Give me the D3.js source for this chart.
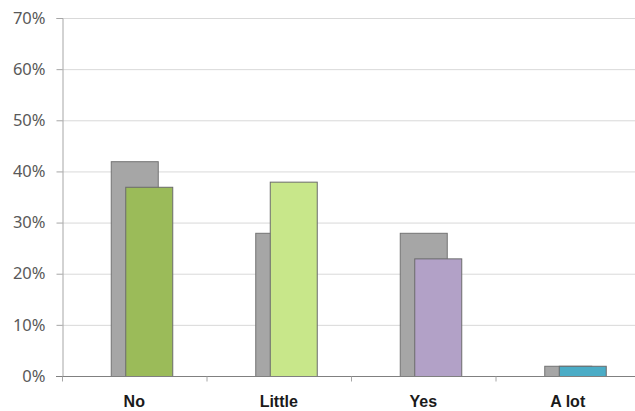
<!DOCTYPE html>
<html><head><meta charset="utf-8">
<script src="https://cdn.jsdelivr.net/npm/d3@7"></script>
<style>body{margin:0;background:#fff}svg{display:block}</style>
</head><body>
<svg id="c" width="635" height="411"></svg>
<script>
const categories = ["No", "Little", "Yes", "A lot"];
const backValues = [42, 28, 28, 2];
const frontValues = [37, 38, 23, 2];
const frontColors = ["#9bbb59", "#c8e78a", "#b2a1c7", "#4bacc6"];
const yTicks = [0, 10, 20, 30, 40, 50, 60, 70];

const svg = d3.select("#c");
const m = {left: 62, right: 640, top: 18, bottom: 376};
const x = d3.scaleBand().domain(categories).range([m.left, m.right]).paddingInner(0).paddingOuter(0);
const y = d3.scaleLinear().domain([0, 70]).range([m.bottom, m.top]);
const bw = 47, off = 14.5;

// gridlines
svg.append("g").selectAll("line").data(yTicks.filter(d => d > 0)).join("line")
  .attr("x1", m.left).attr("x2", 635)
  .attr("y1", d => y(d) + 0.5).attr("y2", d => y(d) + 0.5)
  .attr("stroke", "#d9d9d9").attr("stroke-width", 1);

// y axis
const ya = svg.append("g").attr("transform", `translate(${m.left + 0.5},0)`)
  .call(d3.axisLeft(y).tickValues(yTicks).tickFormat(d => d + "%").tickSize(6).tickPadding(11));
ya.select(".domain").attr("stroke", "#a6a6a6");
ya.selectAll(".tick line").attr("stroke", "#a6a6a6");
ya.selectAll("text").attr("fill", "#595959").style("font-family", "Noto Sans, sans-serif").style("font-size", "16.5px");

// bars
const g = svg.append("g");
g.selectAll("rect.back").data(categories).join("rect").attr("class", "back")
  .attr("x", (d) => x(d) + x.bandwidth() / 2 - bw / 2 + 0.5)
  .attr("y", (d, i) => y(backValues[i]) + 0.5)
  .attr("width", bw).attr("height", (d, i) => y(0) - y(backValues[i]))
  .attr("fill", "#a6a6a6").attr("stroke", "#737373").attr("stroke-width", 1);
g.selectAll("rect.front").data(categories).join("rect").attr("class", "front")
  .attr("x", (d) => x(d) + x.bandwidth() / 2 - bw / 2 + off + 0.5)
  .attr("y", (d, i) => y(frontValues[i]) + 0.5)
  .attr("width", bw).attr("height", (d, i) => y(0) - y(frontValues[i]))
  .attr("fill", (d, i) => frontColors[i]).attr("stroke", "#6b6b6b").attr("stroke-width", 1);

// x axis
const xa = svg.append("g").attr("transform", `translate(0,${m.bottom + 0.5})`);
xa.append("line").attr("x1", m.left - 6).attr("x2", 635).attr("stroke", "#808080");
xa.selectAll("line.t").data(d3.range(categories.length + 1)).join("line").attr("class", "t")
  .attr("x1", i => m.left + i * x.bandwidth() + 0.5).attr("x2", i => m.left + i * x.bandwidth() + 0.5)
  .attr("y1", 0).attr("y2", 5).attr("stroke", "#a6a6a6");
xa.selectAll("text").data(categories).join("text")
  .attr("x", d => x(d) + x.bandwidth() / 2).attr("y", 30)
  .attr("text-anchor", "middle").attr("fill", "#1a1a1a")
  .style("font-family", "Liberation Sans, Arial, sans-serif").style("font-size", "16px").style("font-weight", "bold")
  .text(d => d);
</script>
</body></html>
